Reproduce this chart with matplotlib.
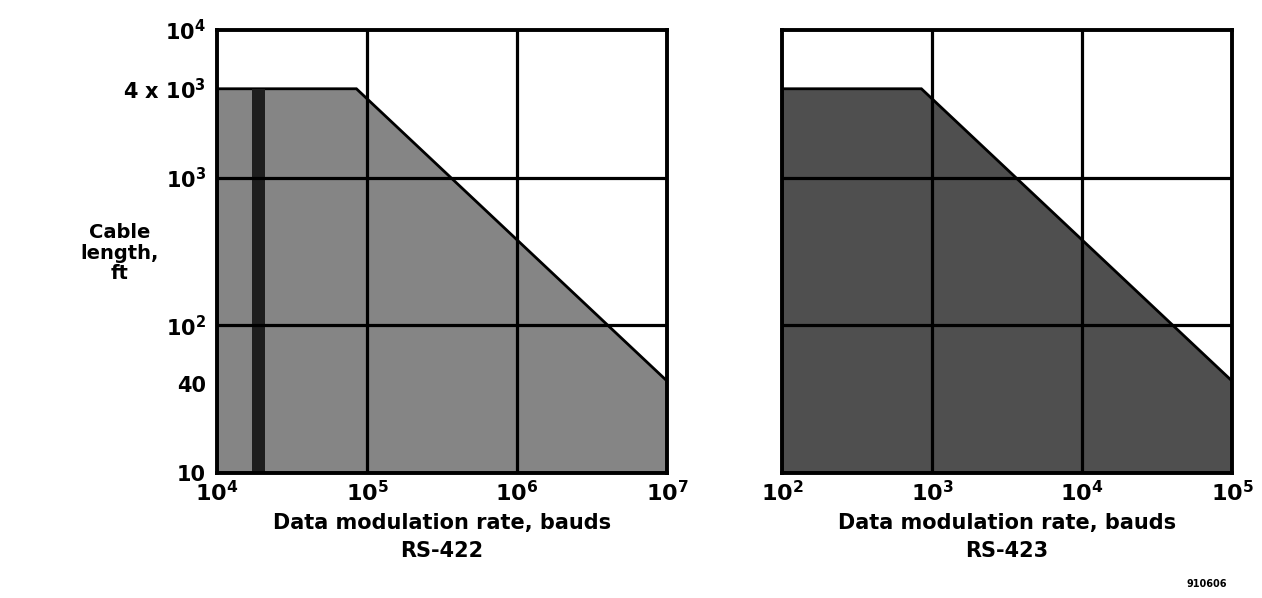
import numpy as np
import matplotlib.pyplot as plt

# operating region, cable length (ft) vs data rate (bauds)
rs422_rate = [1e4, 8.5e4, 1e7, 1e7, 1e4]
rs422_len = [4000, 4000, 42, 10, 10]
rs422_band = [1.7e4, 2.1e4]   # darker stripe in the RS-422 region

rs423_rate = [1e2, 8.5e2, 1e5, 1e5, 1e2]
rs423_len = [4000, 4000, 42, 10, 10]

ytick_vals = [10, 40, 1e2, 1e3, 4e3, 1e4]
ytick_labels = ['10', '40', r'10$^{2}$', r'10$^{3}$',
                r'4 x 10$^{3}$', r'10$^{4}$']

plt.rcParams['font.family'] = ['DejaVu Sans']
plt.rcParams['font.weight'] = 'bold'
plt.rcParams['mathtext.fontset'] = 'custom'
plt.rcParams['mathtext.rm'] = 'DejaVu Sans:bold'
plt.rcParams['mathtext.it'] = 'DejaVu Sans:bold'
plt.rcParams['mathtext.bf'] = 'DejaVu Sans:bold'
plt.rcParams['mathtext.default'] = 'rm'

fig = plt.figure(figsize=(12.62, 5.98), dpi=100)
ax1 = fig.add_axes([217/1262, 125/598, 450/1262, 443/598])
ax2 = fig.add_axes([782/1262, 125/598, 450/1262, 443/598])

lw = 2.3


def setup(ax, xmin, xmax):
    ax.set_xscale('log')
    ax.set_yscale('log')
    ax.set_xlim(xmin, xmax)
    ax.set_ylim(10, 1e4)
    decades = [10**k for k in range(int(np.log10(xmin)), int(np.log10(xmax)) + 1)]
    ax.set_xticks(decades)
    ax.set_xticklabels([r'10$^{%d}$' % int(np.log10(d)) for d in decades],
                       fontsize=16, fontweight='bold')
    ax.minorticks_off()
    ax.tick_params(axis='x', length=0, pad=5)
    ax.tick_params(axis='y', length=0, pad=8)
    for d in decades[1:-1]:
        ax.axvline(d, color='black', lw=lw, zorder=3)
    for v in [1e2, 1e3]:
        ax.axhline(v, color='black', lw=lw, zorder=3)
    for s in ax.spines.values():
        s.set_linewidth(lw + 0.5)
        s.set_zorder(4)


setup(ax1, 1e4, 1e7)
setup(ax2, 1e2, 1e5)

ax1.fill(rs422_rate, rs422_len, facecolor='#858585', edgecolor='black', lw=2, zorder=2)
ax1.fill_between(rs422_band, 10, 4000, color='#1e1e1e', lw=0, zorder=2.5)
ax2.fill(rs423_rate, rs423_len, facecolor='#4f4f4f', edgecolor='black', lw=2, zorder=2)

ax1.set_yticks(ytick_vals)
ax1.set_yticklabels(ytick_labels, fontsize=15, fontweight='bold')
ax2.set_yticks([])

ax1.set_xlabel('Data modulation rate, bauds\nRS-422', fontsize=15, fontweight='bold',
               labelpad=6, linespacing=1.45)
ax2.set_xlabel('Data modulation rate, bauds\nRS-423', fontsize=15, fontweight='bold',
               labelpad=6, linespacing=1.45)

fig.text(120/1262, 1 - 253/598, 'Cable\nlength,\nft', ha='center', va='center',
         fontsize=14, fontweight='bold', linespacing=1.1)
fig.text(1207/1262, 1 - 584/598, '910606', ha='center', va='center',
         fontsize=7, fontweight='bold')

fig.savefig('out.png', dpi=100)
